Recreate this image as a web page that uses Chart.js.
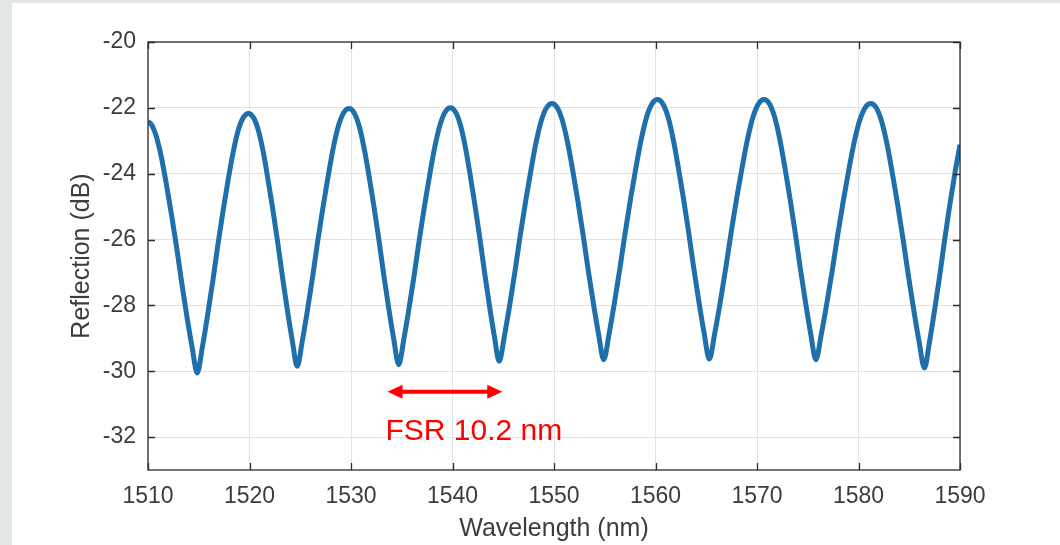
<!DOCTYPE html>
<html>
<head>
<meta charset="utf-8">
<script src="https://cdn.jsdelivr.net/npm/chart.js@4.4.1/dist/chart.umd.min.js"></script>
<style>
    html, body { margin: 0; padding: 0; background: #ffffff; }
    #wrap { width: 1060px; height: 545px; }
</style>
</head>
<body>
<div id="wrap"><canvas id="myChart" width="1060" height="545"></canvas></div>
<script>
// wavelength (nm) / reflection (dB)
var wavelength = [
    1510.0, 1510.35, 1510.85, 1511.35, 1511.85, 1512.35, 1512.85, 1513.35, 1513.85, 1514.35, 1514.85,
    1515.36, 1515.86, 1516.37, 1516.87, 1517.38, 1517.88, 1518.39, 1518.89, 1519.40, 1519.9,
    1520.38, 1520.86, 1521.34, 1521.82, 1522.30, 1522.78, 1523.26, 1523.74, 1524.22, 1524.7,
    1525.21, 1525.72, 1526.23, 1526.74, 1527.25, 1527.76, 1528.27, 1528.78, 1529.29, 1529.8,
    1530.29, 1530.78, 1531.27, 1531.76, 1532.25, 1532.74, 1533.23, 1533.72, 1534.21, 1534.7,
    1535.21, 1535.72, 1536.23, 1536.74, 1537.25, 1537.76, 1538.27, 1538.78, 1539.29, 1539.8,
    1540.28, 1540.76, 1541.24, 1541.72, 1542.20, 1542.68, 1543.16, 1543.64, 1544.12, 1544.6,
    1545.12, 1545.64, 1546.16, 1546.68, 1547.20, 1547.72, 1548.24, 1548.76, 1549.28, 1549.8,
    1550.31, 1550.82, 1551.33, 1551.84, 1552.35, 1552.86, 1553.37, 1553.88, 1554.39, 1554.9,
    1555.43, 1555.96, 1556.49, 1557.02, 1557.55, 1558.08, 1558.61, 1559.14, 1559.67, 1560.2,
    1560.71, 1561.22, 1561.73, 1562.24, 1562.75, 1563.26, 1563.77, 1564.28, 1564.79, 1565.3,
    1565.84, 1566.38, 1566.92, 1567.46, 1568.00, 1568.54, 1569.08, 1569.62, 1570.16, 1570.7,
    1571.21, 1571.72, 1572.23, 1572.74, 1573.25, 1573.76, 1574.27, 1574.78, 1575.29, 1575.8,
    1576.34, 1576.88, 1577.42, 1577.96, 1578.50, 1579.04, 1579.58, 1580.12, 1580.66, 1581.2,
    1581.73, 1582.26, 1582.79, 1583.32, 1583.85, 1584.38, 1584.91, 1585.44, 1585.97, 1586.5,
    1587.0, 1587.5, 1588.0, 1588.5, 1589.0, 1589.5, 1590.0
];
var reflection = [
    -22.41, -22.51, -22.90, -23.55, -24.39, -25.31, -26.30, -27.37, -28.37, -29.28, -30.05,
    -29.26, -28.32, -27.29, -26.19, -25.16, -24.22, -23.35, -22.68, -22.29, -22.17,
    -22.29, -22.67, -23.32, -24.17, -25.09, -26.09, -27.16, -28.16, -29.08, -29.85,
    -29.07, -28.13, -27.11, -26.01, -25.00, -24.06, -23.19, -22.53, -22.14, -22.02,
    -22.14, -22.53, -23.19, -24.04, -24.98, -25.99, -27.08, -28.09, -29.02, -29.80,
    -29.02, -28.08, -27.07, -25.98, -24.96, -24.03, -23.17, -22.51, -22.12, -22.00,
    -22.12, -22.50, -23.15, -24.00, -24.93, -25.93, -27.00, -28.01, -28.93, -29.70,
    -28.92, -27.98, -26.96, -25.86, -24.85, -23.91, -23.04, -22.38, -21.99, -21.87,
    -21.99, -22.38, -23.04, -23.89, -24.83, -25.84, -26.93, -27.94, -28.87, -29.65,
    -28.86, -27.91, -26.88, -25.78, -24.75, -23.80, -22.93, -22.26, -21.87, -21.75,
    -21.87, -22.26, -22.93, -23.80, -24.74, -25.77, -26.87, -27.90, -28.84, -29.63,
    -28.84, -27.90, -26.87, -25.77, -24.74, -23.80, -22.93, -22.26, -21.87, -21.75,
    -21.87, -22.26, -22.93, -23.80, -24.75, -25.78, -26.88, -27.91, -28.86, -29.65,
    -28.87, -27.94, -26.93, -25.84, -24.83, -23.89, -23.04, -22.38, -21.99, -21.87,
    -21.99, -22.39, -23.07, -23.96, -24.92, -25.97, -27.09, -28.13, -29.10, -29.90,
    -29.10, -28.14, -27.10, -25.98, -24.94, -23.98, -23.12
];

var xTicks = [1510, 1520, 1530, 1540, 1550, 1560, 1570, 1580, 1590];
var yTicks = [-32, -30, -28, -26, -24, -22, -20];

// FSR marker: arrow from/to wavelength, at a reflection level
var fsrArrowX = [1533.6, 1544.9];
var fsrArrowY = -30.62;
var fsrText = 'FSR 10.2 nm';
var fsrTextPos = [1533.4, -32.1];

var fontFam = '"Liberation Sans", Arial, Helvetica, sans-serif';

var points = wavelength.map(function (w, i) {
    return { x: w, y: reflection[i] };
});

// grey frame + white figure panel
var bgPlugin = {
    id: 'bg',
    beforeDraw: function (chart) {
        var c = chart.ctx;
        c.save();
        c.fillStyle = '#e3e6e6';
        c.fillRect(0, 0, chart.width, chart.height);
        c.fillStyle = '#ffffff';
        c.fillRect(12, 3, chart.width - 12, chart.height - 3);
        c.restore();
    }
};

// axes box with inward ticks (matlab style) and the FSR arrow / label
var boxPlugin = {
    id: 'box',
    afterDatasetsDraw: function (chart) {
        var c = chart.ctx;
        var a = chart.chartArea;
        var xs = chart.scales.x, ys = chart.scales.y;
        var tl = 7;
        c.save();
        c.strokeStyle = '#2b2b2b';
        c.lineWidth = 1.3;
        c.strokeRect(a.left, a.top, a.right - a.left, a.bottom - a.top);
        c.beginPath();
        xTicks.forEach(function (v) {
            var px = Math.round(xs.getPixelForValue(v)) + 0.5;
            c.moveTo(px, a.bottom); c.lineTo(px, a.bottom - tl);
            c.moveTo(px, a.top); c.lineTo(px, a.top + tl);
        });
        yTicks.forEach(function (v) {
            var py = Math.round(ys.getPixelForValue(v)) + 0.5;
            c.moveTo(a.left, py); c.lineTo(a.left + tl, py);
            c.moveTo(a.right, py); c.lineTo(a.right - tl, py);
        });
        c.stroke();

        // FSR arrow
        var x1 = xs.getPixelForValue(fsrArrowX[0]);
        var x2 = xs.getPixelForValue(fsrArrowX[1]);
        var y = ys.getPixelForValue(fsrArrowY);
        var hl = 15, hw = 7;
        c.strokeStyle = '#ff0000';
        c.fillStyle = '#ff0000';
        c.lineWidth = 4;
        c.beginPath();
        c.moveTo(x1 + hl - 2, y); c.lineTo(x2 - hl + 2, y);
        c.stroke();
        c.beginPath();
        c.moveTo(x1, y); c.lineTo(x1 + hl, y - hw); c.lineTo(x1 + hl, y + hw); c.closePath();
        c.fill();
        c.beginPath();
        c.moveTo(x2, y); c.lineTo(x2 - hl, y - hw); c.lineTo(x2 - hl, y + hw); c.closePath();
        c.fill();

        c.font = '30px ' + fontFam;
        c.textAlign = 'left';
        c.textBaseline = 'alphabetic';
        c.fillText(fsrText, xs.getPixelForValue(fsrTextPos[0]), ys.getPixelForValue(fsrTextPos[1]));
        c.restore();
    }
};

var ctx = document.getElementById('myChart');

var reflChart = new Chart(ctx, {
    type: 'line',
    data: {
        datasets: [{
            label: 'Reflection',
            data: points,
            borderColor: '#1f6fab',
            borderWidth: 5,
            pointRadius: 0,
            fill: false,
            cubicInterpolationMode: 'monotone'
        }]
    },
    options: {
        responsive: false,
        animation: false,
        devicePixelRatio: 1,
        layout: { padding: { left: 12, right: 100, top: 42, bottom: 0 } },
        plugins: {
            legend: { display: false },
            tooltip: { enabled: false }
        },
        scales: {
            x: {
                type: 'linear',
                min: 1510,
                max: 1590,
                afterBuildTicks: function (axis) {
                    axis.ticks = xTicks.map(function (v) { return { value: v }; });
                },
                afterFit: function (axis) { axis.height = 75; },
                grid: { color: '#e2e2e2', lineWidth: 1, drawTicks: false },
                border: { display: false },
                ticks: {
                    padding: 13,
                    color: '#3c3c3c',
                    font: { family: fontFam, size: 23 },
                    maxRotation: 0,
                    callback: function (v) { return String(v); }
                },
                title: {
                    display: true,
                    text: 'Wavelength (nm)',
                    color: '#3c3c3c',
                    font: { family: fontFam, size: 25 },
                    padding: { top: 0, bottom: 1 }
                }
            },
            y: {
                type: 'linear',
                min: -33,
                max: -20,
                afterBuildTicks: function (axis) {
                    axis.ticks = yTicks.map(function (v) { return { value: v }; });
                },
                afterFit: function (axis) { axis.width = 136; },
                grid: { color: '#e2e2e2', lineWidth: 1, drawTicks: false },
                border: { display: false },
                ticks: {
                    padding: 12,
                    color: '#3c3c3c',
                    font: { family: fontFam, size: 23 },
                    callback: function (v) { return String(v); }
                },
                title: {
                    display: true,
                    text: 'Reflection (dB)',
                    color: '#3c3c3c',
                    font: { family: fontFam, size: 25 },
                    padding: { top: 55, bottom: 0 }
                }
            }
        }
    },
    plugins: [bgPlugin, boxPlugin]
});
</script>
</body>
</html>
